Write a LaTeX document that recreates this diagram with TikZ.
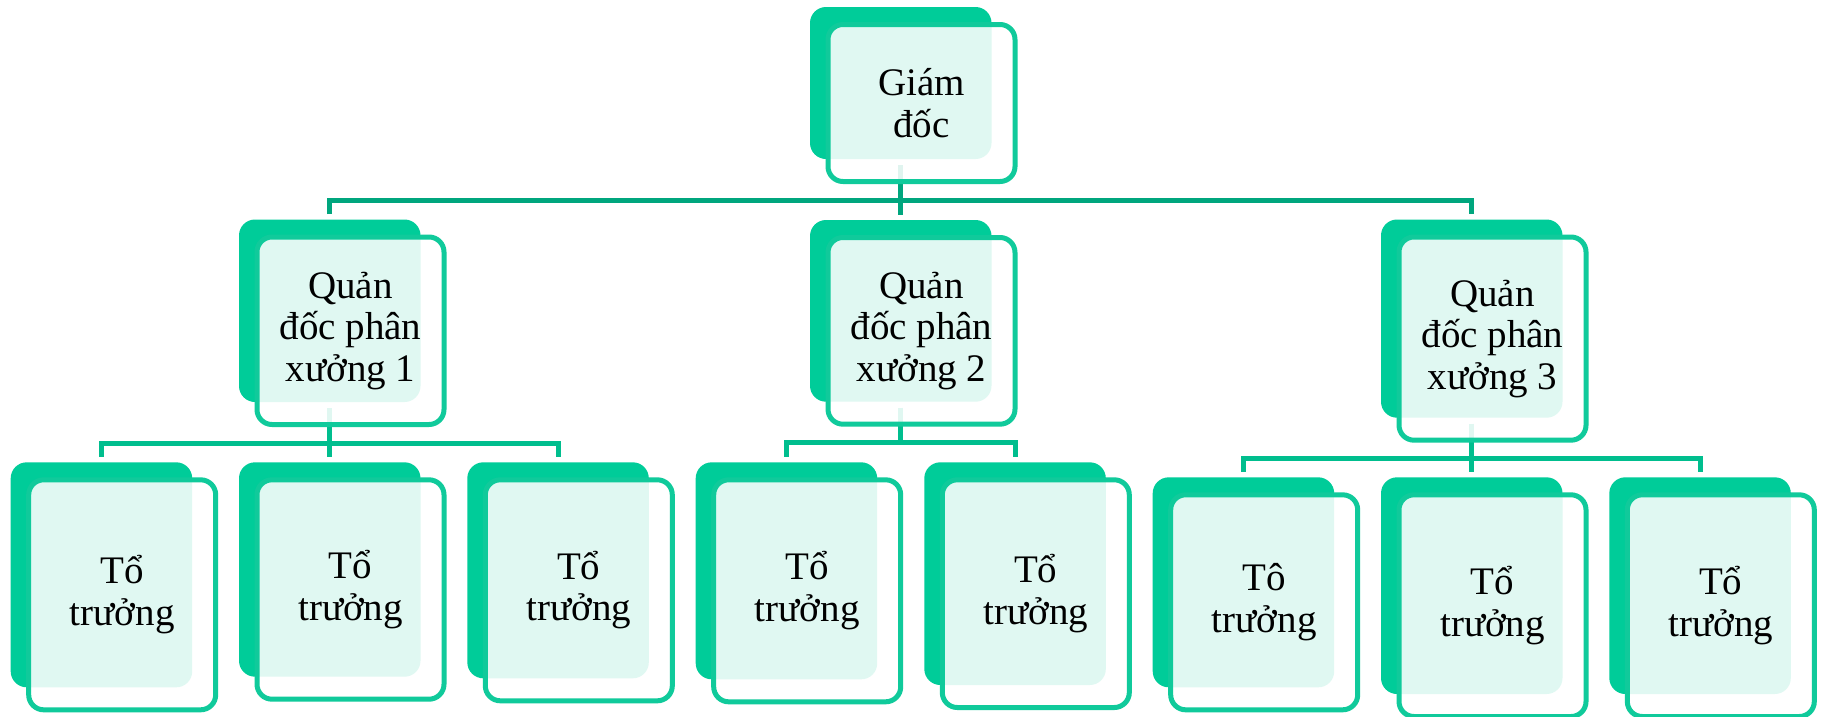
\documentclass[tikz,border=0pt]{standalone}
\usepackage{fontspec}
\setmainfont{Liberation Serif}
\usetikzlibrary{calc}
\definecolor{boxgreen}{HTML}{00CC99}
\definecolor{edgegreen}{HTML}{10CA9B}
\definecolor{topline}{HTML}{00A67E}
\definecolor{subline}{HTML}{00BE8E}
\tikzset{
  backbox/.style={fill=boxgreen, rounded corners=16pt, inner sep=0pt, outer sep=0pt, anchor=north west},
  frontbox/.style={draw=edgegreen, line width=5pt, fill=white, fill opacity=0.88, text opacity=1,
    rounded corners=15pt, inner sep=0pt, outer sep=0pt, anchor=north west, align=center,
    font=\fontsize{39}{41.5}\selectfont, text=black},
  toplink/.style={draw=topline, line width=5pt},
  sublink/.style={draw=subline, line width=5pt},
}
% name, left, top, height
\newcommand\mkback[4]{\node[backbox, minimum width=181.5pt, minimum height=#4pt] (#1b) at (#2,#3) {};}
% name, height, text
\newcommand\mkfront[3]{\node[frontbox, minimum width=187pt, minimum height={#2pt+5pt}] (#1) at ($(#1b.north west)+(18,17.5)$) {#3};}
\begin{document}
\begin{tikzpicture}[x=1pt,y=-1pt]
\path[use as bounding box, fill=white] (0,0) rectangle (1823,716);
% back boxes
\mkback{G}{810}{7}{152}
\mkback{Qa}{239}{219.5}{182.5}
\mkback{Qb}{810}{220}{181.7}
\mkback{Qc}{1381}{219.5}{198.2}
\mkback{Ta}{10.7}{462.3}{225}
\mkback{Tb}{239}{462.3}{214.4}
\mkback{Tc}{467.3}{462.3}{216}
\mkback{Td}{695.7}{462.3}{217}
\mkback{Te}{924.3}{462.3}{222.7}
\mkback{Tf}{1152.7}{477.3}{210}
\mkback{Tg}{1381}{477.3}{216.7}
\mkback{Th}{1609.3}{477.3}{216.7}
% connectors
\draw[toplink] ($(Gb.south)+(0,6)$) -- ($(Qbb.north)+(0,-5.5)$);
\draw[toplink] ($(Qab.north)+(0,-5.5)$) |- ($(Gb.south)+(0,41)$) -| ($(Qcb.north)+(0,-5.5)$);
\draw[sublink] ($(Qab.south)+(0,6)$) -- ($(Tbb.north)+(0,-5.5)$);
\draw[sublink] ($(Tab.north)+(0,-5.5)$) |- ($(Qab.south)+(0,41)$) -| ($(Tcb.north)+(0,-5.5)$);
\draw[sublink] ($(Qbb.south)+(0,6)$) -- ($(Qbb.south)+(0,40.5)$);
\draw[sublink] ($(Tdb.north)+(0,-5.5)$) |- ($(Qbb.south)+(0,40.5)$) -| ($(Teb.north)+(0,-5.5)$);
\draw[sublink] ($(Qcb.south)+(0,6)$) -- ($(Tgb.north)+(0,-5.5)$);
\draw[sublink] ($(Tfb.north)+(0,-5.5)$) |- ($(Qcb.south)+(0,40.5)$) -| ($(Thb.north)+(0,-5.5)$);
% front boxes with text
\mkfront{G}{152}{Giám\\đốc}
\mkfront{Qa}{182.5}{Quản\\đốc phân\\xưởng 1}
\mkfront{Qb}{181.7}{Quản\\đốc phân\\xưởng 2}
\mkfront{Qc}{198.2}{Quản\\đốc phân\\xưởng 3}
\mkfront{Ta}{225}{Tổ\\trưởng}
\mkfront{Tb}{214.4}{Tổ\\trưởng}
\mkfront{Tc}{216}{Tổ\\trưởng}
\mkfront{Td}{217}{Tổ\\trưởng}
\mkfront{Te}{222.7}{Tổ\\trưởng}
\mkfront{Tf}{210}{Tô\\trưởng}
\mkfront{Tg}{216.7}{Tổ\\trưởng}
\mkfront{Th}{216.7}{Tổ\\trưởng}
\end{tikzpicture}
\end{document}
